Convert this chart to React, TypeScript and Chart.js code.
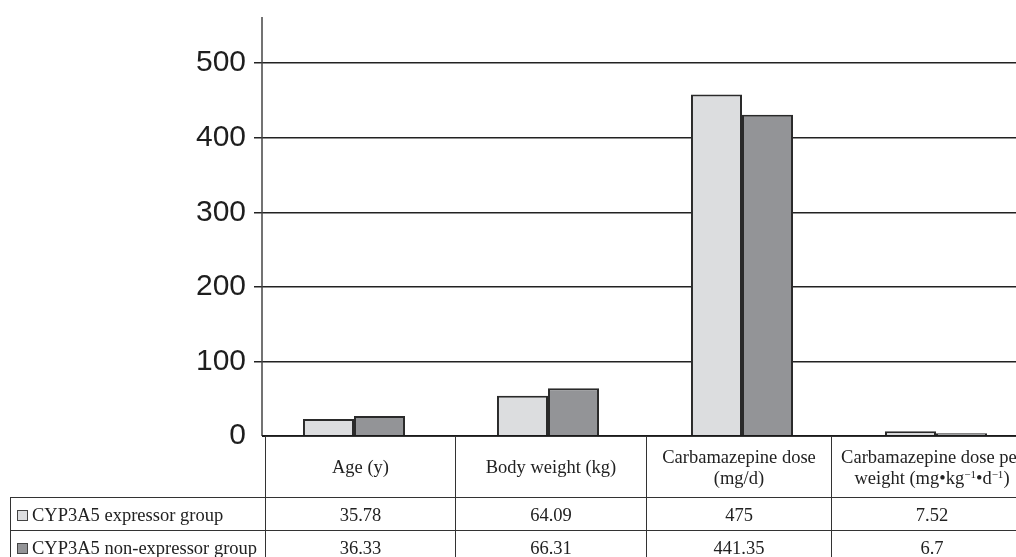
import React, { useEffect, useRef } from "react";
import { Chart, registerables } from "chart.js";

Chart.register(...registerables);

const categories = [
  "Age (y)",
  "Body weight (kg)",
  "Carbamazepine dose (mg/d)",
  "Carbamazepine dose per weight (mg•kg^-1•d^-1)",
];
const headerLines = [
  ["Age (y)"],
  ["Body weight (kg)"],
  ["Carbamazepine dose", "(mg/d)"],
  ["Carbamazepine dose per", "weight (mg•kg^-1•d^-1)"],
];
const seriesNames = ["CYP3A5 expressor group", "CYP3A5 non-expressor group"];
// bar heights as drawn in the picture
const expressorBars = [22.8, 54, 458, 6.3];
const nonExpressorBars = [26.8, 64, 431, 3.6];
// values printed in the data table
const expressorTable = ["35.78", "64.09", "475", "7.52"];
const nonExpressorTable = ["36.33", "66.31", "441.35", "6.7"];
const yTickValues = [0, 100, 200, 300, 400, 500];

const LIGHT = "#dcdddf";
const DARK = "#939497";
const INK = "#222";

const colEdges = [265, 455, 646, 831, 1032];
const legendLeft = 10;
const rowEdges = [436, 497, 530, 563];

function renderSup(text: string) {
  const parts = text.split("^-1");
  const out: React.ReactNode[] = [];
  parts.forEach((p, i) => {
    out.push(<span key={"t" + i}>{p}</span>);
    if (i < parts.length - 1)
      out.push(
        <sup key={"s" + i} style={{ fontSize: "11px", lineHeight: 0, verticalAlign: "6px" }}>
          −1
        </sup>
      );
  });
  return out;
}

const axisLines = {
  id: "axisLines",
  afterDatasetsDraw(chart: any) {
    const { ctx, chartArea, scales } = chart;
    const y = scales.y;
    const x0 = chartArea.left + 5;
    const y0 = y.getPixelForValue(0);
    ctx.save();
    ctx.strokeStyle = "#444";
    ctx.lineWidth = 1.5;
    ctx.beginPath();
    ctx.moveTo(x0, chartArea.top);
    ctx.lineTo(x0, y0);
    ctx.stroke();
    ctx.strokeStyle = "#1a1a1a";
    ctx.lineWidth = 2;
    ctx.beginPath();
    ctx.moveTo(x0, y0);
    ctx.lineTo(chartArea.right, y0);
    ctx.stroke();
    ctx.restore();
  },
};

export default function App() {
  const ref = useRef<HTMLCanvasElement | null>(null);
  useEffect(() => {
    if (!ref.current) return;
    const chart = new Chart(ref.current, {
      type: "bar",
      data: {
        labels: categories,
        datasets: [
          {
            label: seriesNames[0],
            data: expressorBars,
            backgroundColor: LIGHT,
            borderColor: "#2a2a2a",
            borderWidth: 2,
            categoryPercentage: 0.526,
            barPercentage: 1,
          },
          {
            label: seriesNames[1],
            data: nonExpressorBars,
            backgroundColor: DARK,
            borderColor: "#2a2a2a",
            borderWidth: 2,
            categoryPercentage: 0.526,
            barPercentage: 1,
          },
        ],
      },
      options: {
        animation: false,
        responsive: false,
        layout: { padding: { left: 0, top: 17, right: 0, bottom: 121 } },
        plugins: { legend: { display: false }, tooltip: { enabled: false } },
        scales: {
          x: { display: false },
          y: {
            min: 0,
            max: 562,
            afterFit(scale: any) {
              scale.width = 257;
              scale.paddingTop = 0;
              scale.paddingBottom = 0;
            },
            afterBuildTicks(scale: any) {
              scale.ticks = yTickValues.map((v) => ({ value: v }));
            },
            ticks: {
              stepSize: 100,
              includeBounds: false,
              color: "#1e1e1e",
              padding: 8,
              font: { family: "'Liberation Sans', Arial, sans-serif", size: 30 },
            },
            grid: {
              color: (c: any) => (c.tick && c.tick.value === 0 ? "rgba(0,0,0,0)" : "#222"),
              lineWidth: 1.5,
              tickLength: 3,
              drawTicks: true,
            },
            border: { display: false },
          },
        },
      },
      plugins: [axisLines],
    });
    return () => chart.destroy();
  }, []);

  const cellFont: React.CSSProperties = {
    fontFamily: "'Liberation Serif', 'Times New Roman', serif",
    fontSize: "18.5px",
    lineHeight: "21px",
    color: INK,
  };

  const cells: React.ReactNode[] = [];
  headerLines.forEach((lines, i) => {
    cells.push(
      <div
        key={"h" + i}
        style={{
          position: "absolute",
          left: colEdges[i],
          top: rowEdges[0],
          width: colEdges[i + 1] - colEdges[i] + 1,
          height: rowEdges[1] - rowEdges[0] + 1,
          boxSizing: "border-box",
          border: "1px solid #333",
          display: "flex",
          flexDirection: "column",
          alignItems: "center",
          justifyContent: "center",
          whiteSpace: "nowrap",
          paddingTop: 1,
          ...cellFont,
        }}
      >
        {lines.map((l, j) => (
          <div key={j}>{renderSup(l)}</div>
        ))}
      </div>
    );
  });
  const rows = [expressorTable, nonExpressorTable];
  const swatches = [LIGHT, DARK];
  rows.forEach((vals, r) => {
    const top = rowEdges[r + 1];
    const h = rowEdges[r + 2] - top + 1;
    cells.push(
      <div
        key={"l" + r}
        style={{
          position: "absolute",
          left: legendLeft,
          top,
          width: colEdges[0] - legendLeft + 1,
          height: h,
          boxSizing: "border-box",
          border: "1px solid #333",
          display: "flex",
          alignItems: "center",
          paddingLeft: 6,
          paddingTop: 3,
          whiteSpace: "nowrap",
          ...cellFont,
        }}
      >
        <span
          style={{
            display: "inline-block",
            width: 11,
            height: 11,
            boxSizing: "border-box",
            border: "1px solid #444",
            background: swatches[r],
            marginRight: 4,
          }}
        />
        {seriesNames[r]}
      </div>
    );
    vals.forEach((v, i) => {
      cells.push(
        <div
          key={"c" + r + "-" + i}
          style={{
            position: "absolute",
            left: colEdges[i],
            top,
            width: colEdges[i + 1] - colEdges[i] + 1,
            height: h,
            boxSizing: "border-box",
            border: "1px solid #333",
            display: "flex",
            alignItems: "center",
            justifyContent: "center",
            paddingTop: 3,
            ...cellFont,
          }}
        >
          {v}
        </div>
      );
    });
  });

  return (
    <div
      style={{
        position: "fixed",
        left: 0,
        top: 0,
        width: 1016,
        height: 557,
        overflow: "hidden",
        background: "#fff",
      }}
    >
      <canvas
        ref={ref}
        width={1033}
        height={557}
        style={{ position: "absolute", left: 0, top: 0, display: "block" }}
      />
      {cells}
    </div>
  );
}
